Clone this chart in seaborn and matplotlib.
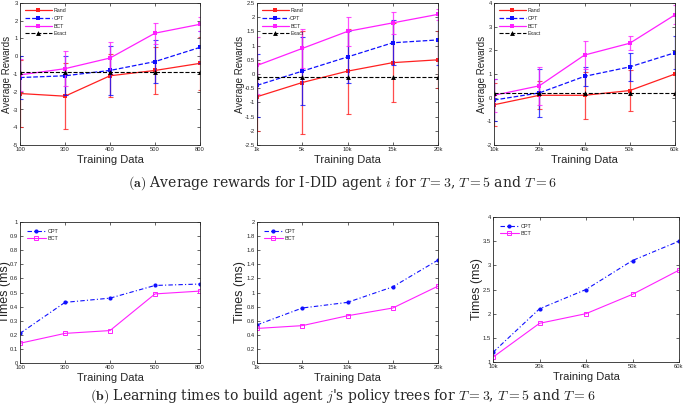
import numpy as np
import pandas as pd
import matplotlib
matplotlib.use("Agg")
import matplotlib.pyplot as plt
import seaborn as sns

# x tick labels for the three horizons
labels_t3 = ["100", "300", "400", "500", "800"]
labels_t5 = ["1k", "5k", "10k", "15k", "20k"]
labels_t6 = ["10k", "20k", "40k", "50k", "60k"]

# (a) average rewards, T=3
rand_t3 = [-2.1, -2.25, -1.1, -0.8, -0.4]
rand_t3_err = [1.9, 1.85, 1.2, 1.3, 1.5]
cpt_t3 = [-1.2, -1.1, -0.8, -0.3, 0.5]
cpt_t3_err = [1.2, 1.1, 1.4, 1.2, 0.9]
bct_t3 = [-1.05, -0.7, -0.1, 1.3, 1.8]
bct_t3_err = [0.9, 1.0, 0.9, 0.6, 0.4]
exact_t3 = [-0.9, -0.9, -0.9, -0.9, -0.9]

# (a) average rewards, T=5
rand_t5 = [-0.8, -0.3, 0.1, 0.4, 0.5]
rand_t5_err = [1.2, 1.8, 1.5, 1.4, 1.0]
cpt_t5 = [-0.4, 0.1, 0.6, 1.1, 1.2]
cpt_t5_err = [1.1, 1.2, 0.9, 0.8, 0.9]
bct_t5 = [0.3, 0.9, 1.5, 1.8, 2.1]
bct_t5_err = [1.0, 0.7, 0.5, 0.4, 0.2]
exact_t5 = [-0.1, -0.1, -0.1, -0.1, -0.1]

# (a) average rewards, T=6
rand_t6 = [-0.3, 0.1, 0.1, 0.3, 1.0]
rand_t6_err = [0.9, 0.6, 1.0, 0.85, 0.9]
cpt_t6 = [-0.1, 0.2, 0.9, 1.3, 1.9]
cpt_t6_err = [0.9, 1.0, 0.4, 0.6, 0.7]
bct_t6 = [0.1, 0.5, 1.8, 2.3, 3.5]
bct_t6_err = [0.7, 0.8, 0.6, 0.3, 0.4]
exact_t6 = [0.2, 0.2, 0.2, 0.2, 0.2]

# (b) learning times (ms)
cpt_time_t3 = [0.21, 0.43, 0.46, 0.55, 0.56]
bct_time_t3 = [0.14, 0.21, 0.23, 0.49, 0.51]
cpt_time_t5 = [0.54, 0.78, 0.86, 1.08, 1.46]
bct_time_t5 = [0.49, 0.53, 0.67, 0.78, 1.09]
cpt_time_t6 = [1.2, 2.1, 2.5, 3.1, 3.5]
bct_time_t6 = [1.1, 1.8, 2.0, 2.4, 2.9]

sns.set_style("ticks")
plt.rcParams['font.family'] = ['Liberation Sans', 'DejaVu Sans']
plt.rcParams['mathtext.fontset'] = 'cm'

W, H = 685, 411
fig = plt.figure(figsize=(W / 100, H / 100), dpi=100)


def px_axes(left, top, right, bottom):
    return fig.add_axes([left / W, 1 - bottom / H, (right - left) / W, (bottom - top) / H])


def style(ax, labels, ylim, yticks, ylabel, lab_size, ylab_x):
    ax.set_xlim(0, len(labels) - 1)
    ax.set_xticks(np.arange(len(labels)))
    ax.set_xticklabels(labels)
    ax.set_ylim(*ylim)
    ax.set_yticks(yticks)
    ax.set_yticklabels([f"{v:g}" for v in yticks])
    ax.tick_params(direction='in', top=True, right=True, labelsize=4.2,
                   length=2.5, width=0.5, pad=1.5)
    for s in ax.spines.values():
        s.set_linewidth(0.6)
    ax.set_xlabel("Training Data", fontsize=8, labelpad=2)
    ax.set_ylabel(ylabel, fontsize=lab_size)
    # y label anchored (right edge) at a figure pixel, close to the tick labels
    bb = ax.get_position()
    ax.yaxis.set_label_coords((ylab_x / W - bb.x0) / bb.width, 0.5)


def rewards_panel(ax, labels, rand, rand_e, cpt, cpt_e, bct, bct_e, exact, ylim, yticks, ylab_x):
    x = np.arange(len(labels))
    series = [("Rand", rand, rand_e, "#ff2020", "-", "s"),
              ("CPT", cpt, cpt_e, "#1010ff", "--", "s"),
              ("BCT", bct, bct_e, "#ff20ff", "-", "s")]
    for name, y, e, c, ls, m in series:
        ax.errorbar(x, y, yerr=e, fmt='none', ecolor=c, elinewidth=0.9, capsize=1.8,
                    capthick=0.8, alpha=0.8)
        sns.lineplot(x=x, y=y, ax=ax, color=c, linestyle=ls, marker=m, markersize=3,
                     markeredgewidth=0, linewidth=0.9, label=name)
    sns.lineplot(x=x, y=exact, ax=ax, color="black", linestyle="--", marker="^",
                 markersize=3.5, markeredgewidth=0, linewidth=0.8, label="Exact")
    ax.legend(loc="upper left", fontsize=3.8, frameon=False, handlelength=5,
              borderaxespad=0.6, labelspacing=0.5, handletextpad=0.3)
    style(ax, labels, ylim, yticks, "Average Rewards", 7, ylab_x)


def times_panel(ax, labels, cpt, bct, ylim, yticks, ylab_x):
    x = np.arange(len(labels))
    sns.lineplot(x=x, y=cpt, ax=ax, color="#1010ff", linestyle=(0, (4, 2, 1, 2)), marker="o",
                 markersize=3, markeredgewidth=0, linewidth=0.8, label="CPT")
    sns.lineplot(x=x, y=bct, ax=ax, color="#ff20ff", linestyle="-", marker="s",
                 markersize=3, markerfacecolor="none", markeredgecolor="#ff20ff",
                 markeredgewidth=0.7, linewidth=0.8, label="BCT")
    ax.legend(loc="upper left", fontsize=4, frameon=False, handlelength=3.5,
              borderaxespad=0.8, labelspacing=0.4, handletextpad=0.3)
    style(ax, labels, ylim, yticks, "Times (ms)", 9, ylab_x)


ax1 = px_axes(20, 3, 200, 145)
rewards_panel(ax1, labels_t3, rand_t3, rand_t3_err, cpt_t3, cpt_t3_err, bct_t3, bct_t3_err,
              exact_t3, (-5, 3), np.arange(-5, 4, 1), 12)
ax2 = px_axes(257, 3, 438, 145)
rewards_panel(ax2, labels_t5, rand_t5, rand_t5_err, cpt_t5, cpt_t5_err, bct_t5, bct_t5_err,
              exact_t5, (-2.5, 2.5), np.arange(-2.5, 2.6, 0.5), 245)
ax3 = px_axes(494, 3, 675, 145)
rewards_panel(ax3, labels_t6, rand_t6, rand_t6_err, cpt_t6, cpt_t6_err, bct_t6, bct_t6_err,
              exact_t6, (-2, 4), np.arange(-2, 5, 1), 487)

ax4 = px_axes(20, 222, 200, 363)
times_panel(ax4, labels_t3, cpt_time_t3, bct_time_t3, (0, 1),
            np.round(np.arange(0, 1.01, 0.1), 1), 11)
ax5 = px_axes(257, 222, 438, 363)
times_panel(ax5, labels_t5, cpt_time_t5, bct_time_t5, (0, 2),
            np.round(np.arange(0, 2.01, 0.2), 1), 246)
ax6 = px_axes(493, 217, 679, 362)
times_panel(ax6, labels_t6, cpt_time_t6, bct_time_t6, (1, 4),
            np.arange(1, 4.01, 0.5), 483)

fig.text(0.5, 1 - 183 / H,
         r"$\mathbf{(a)}$ Average rewards for I-DID agent $i$ for $T = 3$, $T = 5$ and $T = 6$",
         ha="center", va="center", fontsize=10, family="DejaVu Serif")
fig.text(0.5, 1 - 396 / H,
         r"$\mathbf{(b)}$ Learning times to build agent $j$'s policy trees for $T = 3$, $T = 5$ and $T = 6$",
         ha="center", va="center", fontsize=10, family="DejaVu Serif")

fig.savefig("out.png", dpi=100)
